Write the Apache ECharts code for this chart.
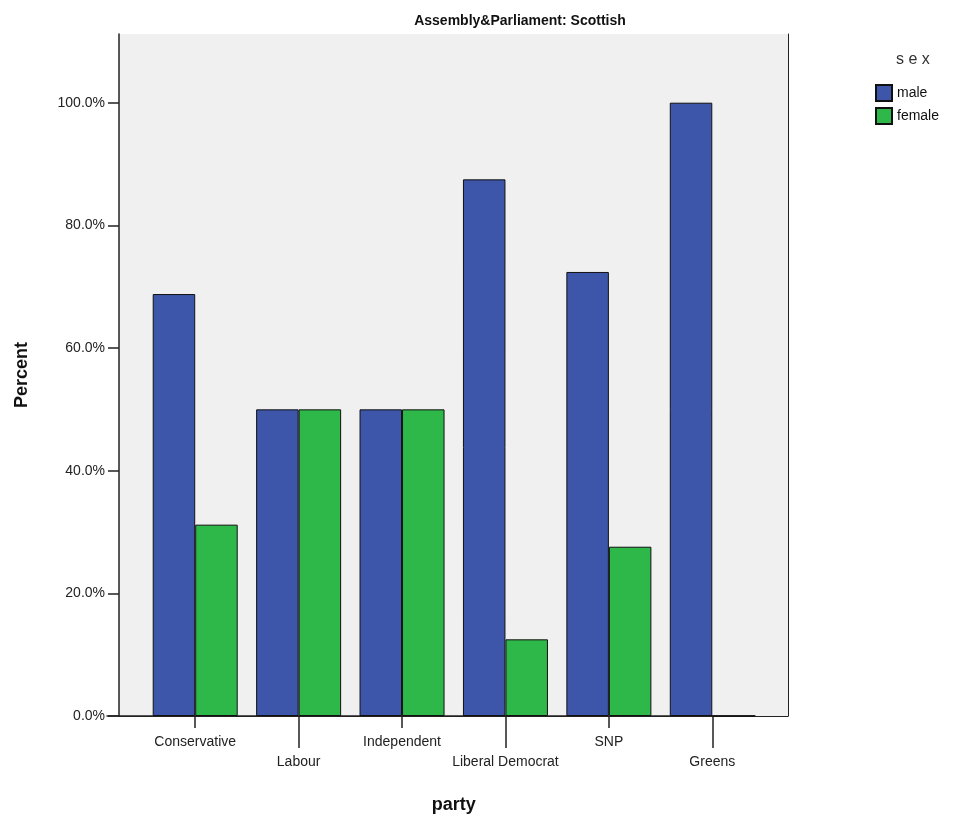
<!DOCTYPE html>
<html>
<head>
<meta charset="utf-8">
<script src="https://cdn.jsdelivr.net/npm/echarts@6/dist/echarts.min.js"></script>
<style>html,body{margin:0;padding:0;background:#fff}#c{width:958px;height:822px}</style>
</head>
<body>
<div id="c"></div>
<script>
const categories = ['Conservative', 'Labour', 'Independent', 'Liberal Democrat', 'SNP', 'Greens'];
const maleValues = [68.8, 50.0, 50.0, 87.5, 72.4, 100.0];
const femaleValues = [31.2, 50.0, 50.0, 12.5, 27.6, 0.0];
const yTicks = [0, 20, 40, 60, 80, 100];
const seriesNames = ['male', 'female'];

const Y_MAX = 111.2;
const FONT = '"Liberation Sans", Arial, sans-serif';
const chart = echarts.init(document.getElementById('c'));

const plotTop = 34, plotH = 682;

chart.setOption({
  animation: false,
  title: {
    text: 'Assembly&Parliament: Scottish',
    left: 515, top: 9, textAlign: 'center',
    textStyle: { fontFamily: FONT, fontSize: 14, fontWeight: 'bold', color: '#111' }
  },
  legend: {
    data: seriesNames,
    orient: 'vertical',
    left: 870, top: 79,
    itemWidth: 16, itemHeight: 16, itemGap: 5,
    icon: 'rect',
    textStyle: { fontFamily: FONT, fontSize: 14, color: '#111' },
    selectedMode: false
  },
  graphic: [{
    type: 'text', left: 896, top: 52,
    style: { text: 's e x', font: '16px ' + FONT, fill: '#333' }
  }],
  grid: [
    { left: 119, top: plotTop, width: 669, height: plotH, show: true, backgroundColor: '#f0f0f0', borderWidth: 0 },
    { left: 143.5, top: plotTop, width: 620.5, height: plotH },
    { left: 107, top: plotTop, width: 648, height: plotH }
  ],
  xAxis: [
    { gridIndex: 0, type: 'value', min: 0, max: 1, position: 'top',
      axisLine: { show: true, lineStyle: { color: '#222', width: 1 } },
      axisTick: { show: false }, axisLabel: { show: false }, splitLine: { show: false } },
    { gridIndex: 1, type: 'category', data: categories, position: 'bottom',
      name: 'party', nameLocation: 'middle', nameGap: 80,
      nameTextStyle: { fontFamily: FONT, fontSize: 18, fontWeight: 'bold', color: '#111' },
      axisLine: { show: false },
      axisTick: { show: true, alignWithLabel: true, length: 12, interval: (i) => i % 2 === 0,
        lineStyle: { color: '#222', width: 1.5 } },
      axisLabel: { interval: 0, margin: 16, fontFamily: FONT, fontSize: 14, color: '#222',
        formatter: (v, i) => (i % 2 === 1 ? '\n' + v : v), lineHeight: 20 } },
    { gridIndex: 1, type: 'category', data: categories, position: 'bottom',
      axisLine: { show: false },
      axisTick: { show: true, alignWithLabel: true, length: 32, interval: (i) => i % 2 === 1,
        lineStyle: { color: '#222', width: 1.5 } },
      axisLabel: { show: false } },
    { gridIndex: 2, type: 'value', min: 0, max: 1, position: 'bottom',
      axisLine: { show: true, lineStyle: { color: '#222', width: 1.5 } },
      axisTick: { show: false }, axisLabel: { show: false }, splitLine: { show: false } }
  ],
  yAxis: [
    { gridIndex: 0, type: 'value', min: 0, max: Y_MAX, position: 'left',
      name: 'Percent', nameLocation: 'middle', nameGap: 88, nameRotate: 90,
      nameTextStyle: { fontFamily: FONT, fontSize: 18, fontWeight: 'bold', color: '#111' },
      axisLine: { show: true, lineStyle: { color: '#222', width: 1.5 } },
      axisTick: { show: true, length: 11, customValues: yTicks, lineStyle: { color: '#222', width: 1.5 } },
      axisLabel: { customValues: yTicks, margin: 14, fontFamily: FONT, fontSize: 14, color: '#222',
        formatter: (v) => v.toFixed(1) + '%' },
      splitLine: { show: false } },
    { gridIndex: 0, type: 'value', min: 0, max: Y_MAX, position: 'right',
      axisLine: { show: true, lineStyle: { color: '#222', width: 1 } },
      axisTick: { show: false }, axisLabel: { show: false }, splitLine: { show: false } },
    { gridIndex: 1, type: 'value', min: 0, max: Y_MAX, show: false, splitLine: { show: false } },
    { gridIndex: 2, type: 'value', min: 0, max: Y_MAX, show: false, splitLine: { show: false } }
  ],
  series: [
    { name: seriesNames[0], type: 'bar', xAxisIndex: 1, yAxisIndex: 2, data: maleValues,
      barGap: '0%', barCategoryGap: '17.8%',
      itemStyle: { color: '#3d56a9', borderColor: '#111', borderWidth: 1 } },
    { name: seriesNames[1], type: 'bar', xAxisIndex: 1, yAxisIndex: 2, data: femaleValues,
      barGap: '0%', barCategoryGap: '17.8%',
      itemStyle: { color: '#2eb84a', borderColor: '#111', borderWidth: 1 } }
  ]
});
</script>
</body>
</html>
